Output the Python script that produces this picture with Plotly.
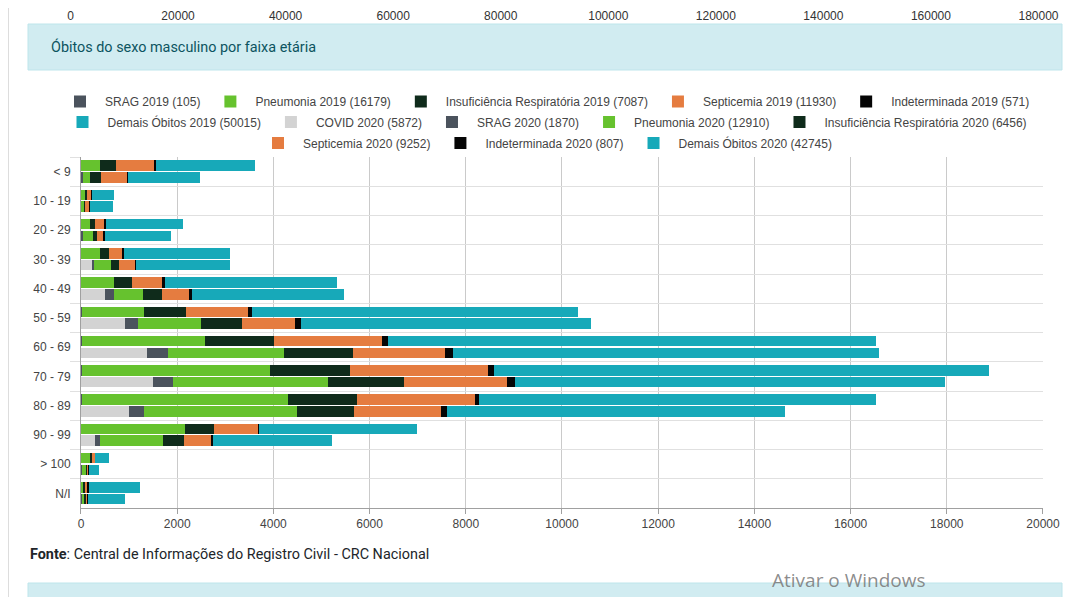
import plotly.graph_objects as go

# age groups (top to bottom)
faixas = ["< 9", "10 - 19", "20 - 29", "30 - 39", "40 - 49", "50 - 59",
          "60 - 69", "70 - 79", "80 - 89", "90 - 99", "> 100", "N/I"]

# 2019 causes of death
srag_2019 = [5, 2, 5, 5, 8, 12, 15, 18, 17, 10, 3, 5]
pneumonia_2019 = [381, 90, 187, 395, 672, 1299, 2561, 3912, 4285, 2148, 194, 55]
insuf_2019 = [333, 35, 90, 180, 381, 869, 1430, 1669, 1439, 603, 28, 30]
septicemia_2019 = [811, 83, 208, 291, 631, 1299, 2258, 2868, 2443, 921, 69, 48]
indet_2019 = [22, 10, 20, 20, 45, 74, 112, 119, 89, 25, 5, 30]
demais_2019 = [2058, 471, 1608, 2211, 3576, 6776, 10143, 10293, 8256, 3279, 284, 1060]

# 2020 causes of death
covid_2020 = [10, 5, 15, 222, 506, 916, 1377, 1487, 1008, 291, 15, 20]
srag_2020 = [28, 5, 28, 55, 173, 275, 430, 428, 312, 111, 10, 15]
pneumonia_2020 = [150, 55, 201, 347, 617, 1299, 2414, 3217, 3170, 1310, 90, 40]
insuf_2020 = [222, 28, 90, 173, 388, 854, 1439, 1580, 1195, 437, 20, 30]
septicemia_2020 = [555, 90, 139, 326, 568, 1114, 1902, 2150, 1805, 555, 28, 20]
indet_2020 = [20, 10, 20, 28, 60, 126, 177, 156, 125, 40, 10, 15]
demais_2020 = [1482, 471, 1379, 1948, 3153, 6021, 8855, 8949, 7029, 2481, 208, 769]

# tick values of the axis left over from the chart above
top_ticks = [0, 20000, 40000, 60000, 80000, 100000, 120000, 140000, 160000, 180000]

srag_color = '#4b535d'
pneumonia_color = '#66c22e'
insuf_color = '#0f2b1b'
septicemia_color = '#e57c40'
indet_color = '#050505'
demais_color = '#17a9b9'
covid_color = '#d3d3d3'
grid_color = '#cacaca'
text_color = '#444444'

series_2019 = [
    ("SRAG 2019 (105)", srag_2019, srag_color, 'legend'),
    ("Pneumonia 2019 (16179)", pneumonia_2019, pneumonia_color, 'legend'),
    ("Insuficiência Respiratória 2019 (7087)", insuf_2019, insuf_color, 'legend'),
    ("Septicemia 2019 (11930)", septicemia_2019, septicemia_color, 'legend'),
    ("Indeterminada 2019 (571)", indet_2019, indet_color, 'legend'),
    ("Demais Óbitos 2019 (50015)", demais_2019, demais_color, 'legend2'),
]
series_2020 = [
    ("COVID 2020 (5872)", covid_2020, covid_color, 'legend2'),
    ("SRAG 2020 (1870)", srag_2020, srag_color, 'legend2'),
    ("Pneumonia 2020 (12910)", pneumonia_2020, pneumonia_color, 'legend2'),
    ("Insuficiência Respiratória 2020 (6456)", insuf_2020, insuf_color, 'legend2'),
    ("Septicemia 2020 (9252)", septicemia_2020, septicemia_color, 'legend3'),
    ("Indeterminada 2020 (807)", indet_2020, indet_color, 'legend3'),
    ("Demais Óbitos 2020 (42745)", demais_2020, demais_color, 'legend3'),
]

fig = go.Figure()

# 2019 stack sits in the upper half of each category band
for name, vals, color, leg in series_2019:
    fig.add_trace(go.Bar(
        y=faixas, x=vals, name=name, orientation='h',
        marker=dict(color=color, line_width=0),
        offset=-0.385, width=0.355,
        legend=leg, yaxis='y'
    ))

# 2020 stack on an overlaid axis so it stacks on its own
for name, vals, color, leg in series_2020:
    fig.add_trace(go.Bar(
        y=faixas, x=vals, name=name, orientation='h',
        marker=dict(color=color, line_width=0),
        offset=0.02, width=0.355,
        legend=leg, yaxis='y2'
    ))

# empty trace so the leftover top axis gets a subplot and is drawn
fig.add_trace(go.Scatter(x=[], y=[], xaxis='x2', yaxis='y3',
                         showlegend=False, hoverinfo='skip'))

legend_common = dict(
    orientation='h', xanchor='center', yanchor='middle', x=0.48355,
    font=dict(family='Liberation Sans', size=12, color=text_color),
    bgcolor='rgba(0,0,0,0)', traceorder='normal', itemwidth=40
)

fig.update_layout(
    width=1077, height=597,
    paper_bgcolor='white', plot_bgcolor='white',
    margin=dict(l=52, r=22, t=0, b=97),
    barmode='stack',
    bargap=0,
    font=dict(family='Liberation Sans', size=12, color=text_color),
    legend=dict(legend_common, y=0.813),
    legend2=dict(legend_common, y=0.772),
    legend3=dict(legend_common, y=0.730),
    xaxis=dict(
        domain=[0.020937, 0.980060],
        range=[0, 20000], dtick=2000, tickformat='d',
        showgrid=True, gridcolor=grid_color,
        zeroline=False,
        showline=True, linecolor='#a0a0a0',
        ticks='outside', ticklen=5, tickcolor='#a0a0a0',
        tickfont=dict(size=12, color=text_color)
    ),
    yaxis=dict(
        domain=[0, 0.702],
        type='category', categoryarray=faixas, categoryorder='array',
        range=[11.5, -0.5],
        tickson='boundaries', showgrid=True, gridcolor='#e0e0e0',
        ticks='outside', ticklen=10, tickcolor='#e0e0e0',
        ticklabelstandoff=7,
        showline=True, linecolor='#a0a0a0',
        tickfont=dict(size=12, color=text_color)
    ),
    yaxis2=dict(
        overlaying='y', matches='y',
        type='category', categoryarray=faixas, categoryorder='array',
        range=[11.5, -0.5], visible=False
    ),
    # leftover axis of the previous chart, cut at the top of the page
    xaxis2=dict(
        domain=[0.010469, 0.975573],
        anchor='y3', side='bottom', ticklabelposition='inside',
        ticklabeloverflow='allow',
        range=[0, 180000], tickvals=top_ticks, tickformat='d',
        showgrid=False, showline=False, zeroline=False, ticks='',
        tickfont=dict(size=12, color='#333333')
    ),
    yaxis3=dict(domain=[0.965, 1.0], anchor='x2', range=[0, 1], visible=False),
    showlegend=True,
)

# title box, bottom box and page border
fig.add_shape(type='rect', xref='paper', yref='paper',
              x0=-0.031904, x1=0.999003, y0=0.876, y1=0.968,
              fillcolor='#d1ecf1', line=dict(color='#bee5eb', width=1), layer='below')
fig.add_shape(type='rect', xref='paper', yref='paper',
              x0=-0.031904, x1=0.999003, y0=-0.2, y1=-0.15,
              fillcolor='#d1ecf1', line=dict(color='#bee5eb', width=1), layer='below')
fig.add_shape(type='line', xref='paper', yref='paper',
              x0=-0.05135, x1=-0.05135, y0=-0.2, y1=1.0,
              line=dict(color='#dddddd', width=1))

fig.add_annotation(text="Óbitos do sexo masculino por faixa etária",
                   xref='paper', yref='paper', x=-0.010967, y=0.922,
                   xanchor='left', yanchor='middle', showarrow=False,
                   font=dict(family='Roboto', size=14.4, color='#0c5460'))
fig.add_annotation(text="<b>Fonte</b>: Central de Informações do Registro Civil - CRC Nacional",
                   xref='paper', yref='paper', x=-0.031904, y=-0.092,
                   xanchor='left', yanchor='middle', showarrow=False,
                   font=dict(family='Roboto', size=14.4, color='#212529'))
fig.add_annotation(text="Ativar o Windows",
                   xref='paper', yref='paper', x=0.70788, y=-0.144,
                   xanchor='left', yanchor='middle', showarrow=False,
                   font=dict(family='Open Sans', size=19, color='rgba(120,120,120,0.85)'))

fig.write_html("out.html")
